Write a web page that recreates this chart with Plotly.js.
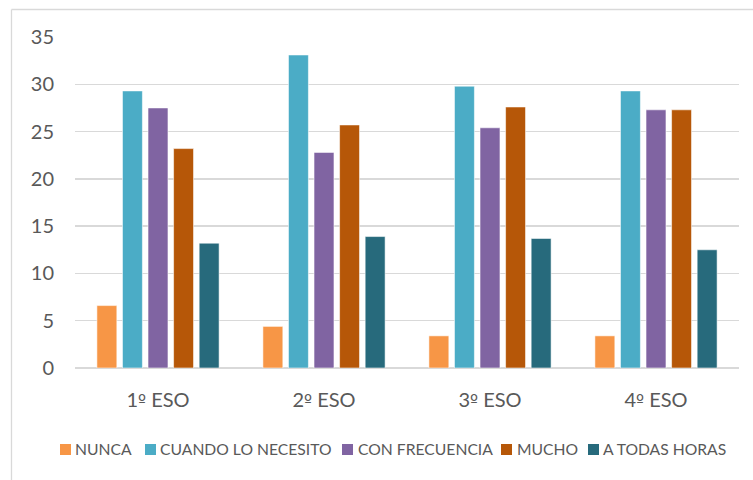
<!DOCTYPE html>
<html>
<head>
<meta charset="utf-8">
<script src="https://cdn.plot.ly/plotly-3.0.1.min.js"></script>
<style>
  html, body { margin: 0; padding: 0; background: #ffffff; }
  #chart { width: 753px; height: 480px; }
</style>
</head>
<body>
<div id="chart"></div>
<script>
// Courses on the category axis and the answer series (percentages)
const courses = ['1º ESO', '2º ESO', '3º ESO', '4º ESO'];
const seriesNames = ['NUNCA', 'CUANDO LO NECESITO', 'CON FRECUENCIA', 'MUCHO', 'A TODAS HORAS'];
const nunca = [6.6, 4.4, 3.4, 3.4];
const cuandoLoNecesito = [29.3, 33.1, 29.8, 29.3];
const conFrecuencia = [27.5, 22.8, 25.4, 27.3];
const mucho = [23.2, 25.7, 27.6, 27.3];
const aTodasHoras = [13.2, 13.9, 13.7, 12.5];
const yTicks = [0, 5, 10, 15, 20, 25, 30, 35];

const seriesValues = [nunca, cuandoLoNecesito, conFrecuencia, mucho, aTodasHoras];
const seriesColors = ['#F79646', '#4BACC6', '#8064A2', '#B65708', '#276A7C'];

const FONT = 'Lato, "Open Sans", sans-serif';
const TEXT_COLOR = '#595959';
const GRID_COLOR = '#d9d9d9';

const W = 753, H = 480;
const margin = { l: 75, r: 14, t: 37, b: 112, pad: 0 };
const plotW = W - margin.l - margin.r;
const plotH = H - margin.t - margin.b;
// pixel -> paper coordinate helpers for the legend and the frame
const px = p => (p - margin.l) / plotW;
const py = p => (H - margin.b - p) / plotH;

const traces = seriesNames.map((name, i) => ({
  type: 'bar',
  name: name,
  x: courses,
  y: seriesValues[i],
  marker: {
    color: seriesColors[i],
    line: { color: 'rgba(255,255,255,0.55)', width: 1 }
  },
  hoverinfo: 'skip'
}));

// Course labels: the ordinal sign uses a font whose "º" carries the underline
const courseLabels = courses.map(c =>
  c.replace('º', '<span style="font-family:DejaVu Sans;font-size:17px">º</span>'));

// Legend drawn as squares + text below the plot
const legendSquareX = [60, 145, 342, 501, 588];
const legendTextX = [75, 160, 358, 517, 603];
const legendY = 449.5;

const shapes = [];
const annotations = [];
seriesNames.forEach((name, i) => {
  shapes.push({
    type: 'rect', xref: 'paper', yref: 'paper',
    x0: px(legendSquareX[i]), x1: px(legendSquareX[i] + 11),
    y0: py(legendY - 5.5), y1: py(legendY + 5.5),
    fillcolor: seriesColors[i], line: { width: 0 }
  });
  annotations.push({
    xref: 'paper', yref: 'paper',
    x: px(legendTextX[i] - 1), y: py(legendY),
    xanchor: 'left', yanchor: 'middle',
    text: name, showarrow: false,
    font: { family: FONT, size: 15.7, color: TEXT_COLOR },
    borderpad: 0
  });
});

// Light chart-area frame (left and top edges)
shapes.push({
  type: 'line', xref: 'paper', yref: 'paper',
  x0: px(11.5), x1: px(11.5), y0: py(9.5), y1: py(481),
  line: { color: GRID_COLOR, width: 1.3 }
});
shapes.push({
  type: 'line', xref: 'paper', yref: 'paper',
  x0: px(11.5), x1: px(754), y0: py(9.5), y1: py(9.5),
  line: { color: GRID_COLOR, width: 1.3 }
});

const layout = {
  width: W,
  height: H,
  margin: margin,
  paper_bgcolor: '#ffffff',
  plot_bgcolor: '#ffffff',
  barmode: 'group',
  bargap: 0.23,
  bargroupgap: 0.22,
  showlegend: false,
  font: { family: FONT, color: TEXT_COLOR },
  xaxis: {
    type: 'category',
    tickvals: courses,
    ticktext: courseLabels,
    showgrid: false,
    zeroline: false,
    showline: false,
    ticks: '',
    ticklabelstandoff: 18,
    tickfont: { family: FONT, size: 20, color: TEXT_COLOR }
  },
  yaxis: {
    range: [0, 35],
    tickvals: yTicks,
    ticktext: yTicks.map(String),
    showgrid: true,
    gridcolor: GRID_COLOR,
    gridwidth: 1.3,
    zeroline: true,
    zerolinecolor: GRID_COLOR,
    zerolinewidth: 1.3,
    showline: false,
    ticks: '',
    ticklabelstandoff: 20,
    tickfont: { family: FONT, size: 20, color: TEXT_COLOR }
  },
  shapes: shapes,
  annotations: annotations
};

Plotly.newPlot('chart', traces, layout, { displayModeBar: false, staticPlot: true });
</script>
</body>
</html>
